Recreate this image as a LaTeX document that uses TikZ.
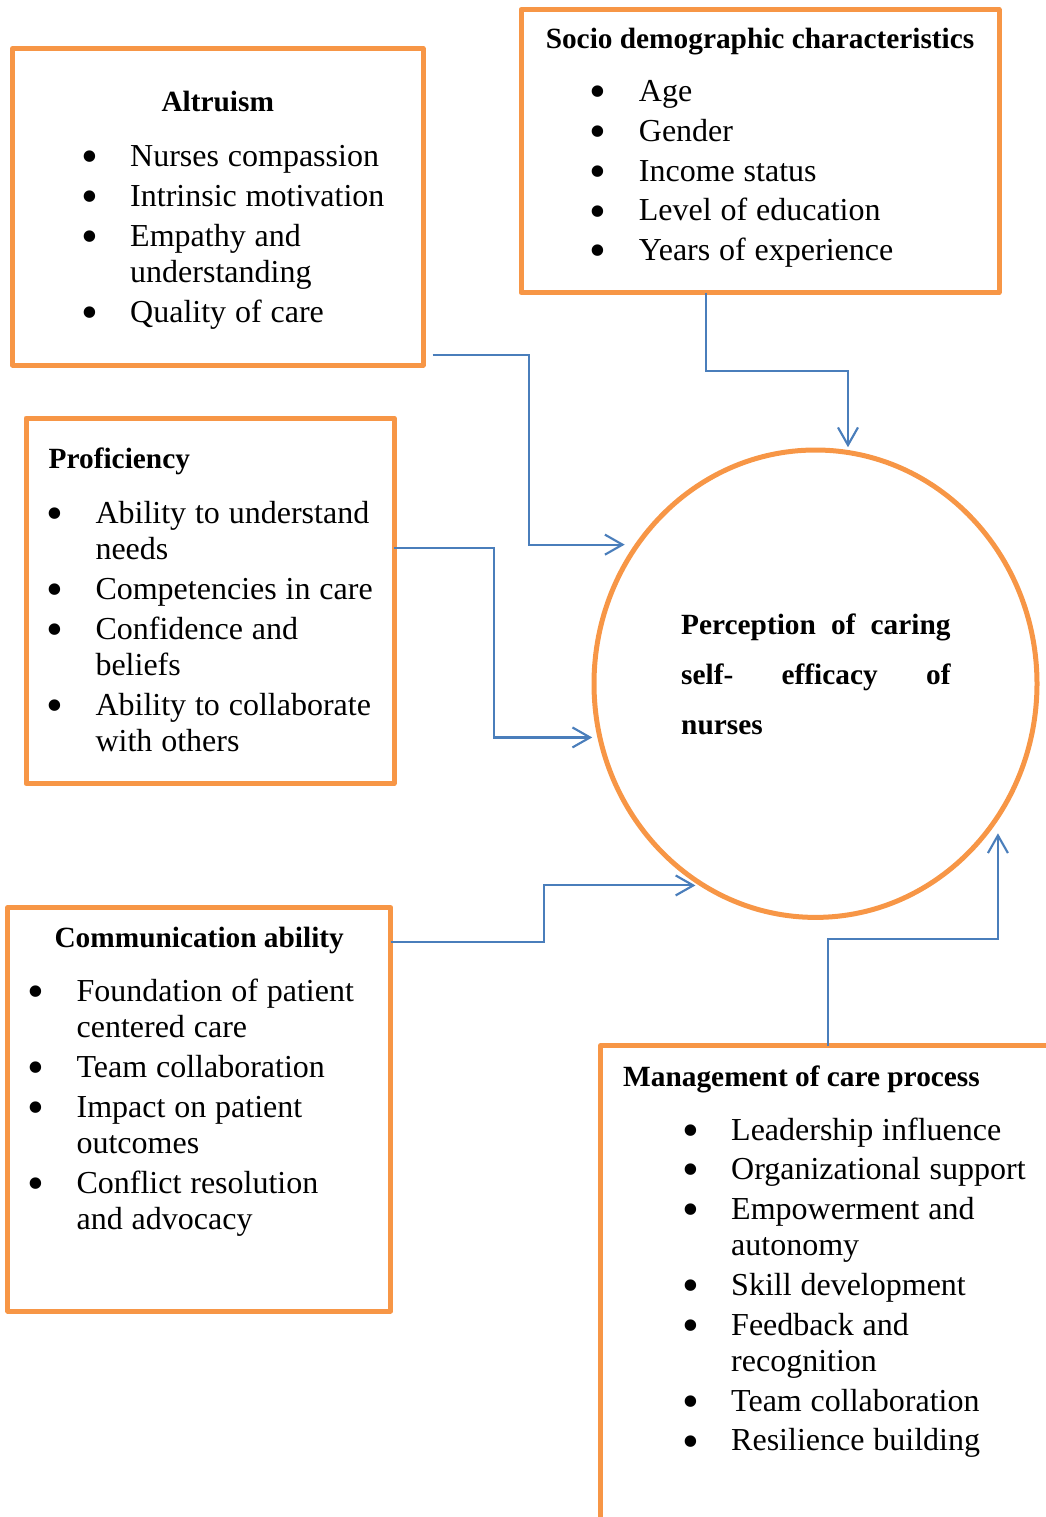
\documentclass[tikz,border=0pt]{standalone}
\usepackage{fontspec}
\setmainfont{Liberation Serif}
\usetikzlibrary{shapes.geometric}
\usetikzlibrary{arrows.meta}
\definecolor{frameorange}{HTML}{F79646}
\definecolor{linkblue}{HTML}{4A7EBB}
\def\pxu{0.375pt}
\newcommand{\bulletglyph}{\raisebox{-2.3pt}{\scalebox{1.5}{\textbullet}}}
\newcommand{\listsetup}{\fontsize{12}{13.6}\selectfont\setlength{\parskip}{1.3pt}}
\newcommand{\bitem}[1]{\noindent\hangindent=19pt\hangafter=1\makebox[19pt][l]{\makebox[7.5pt][c]{\bulletglyph}}#1\par}
\tikzset{box/.style={draw=frameorange, line width=1.875pt, line join=round, inner sep=0pt, outer sep=0pt},
  openframe/.style={draw=frameorange, line width=1.875pt, line join=round},
  circ/.style={ellipse, draw=frameorange, line width=1.875pt, inner sep=0pt, outer sep=0pt},
  head/.style={font=\bfseries\fontsize{11}{13}\selectfont, inner sep=0pt},
  itemlist/.style={anchor=base west, inner sep=0pt, text width=150pt, align=left},
  link/.style={draw=linkblue, line width=0.8pt, -{Straight Barb[length=6.6pt,width=7.5pt]}}}
\begin{document}
\begin{tikzpicture}[x=0.375pt, y=-0.375pt]
\useasboundingbox (0,0) rectangle (1046,1517);

\node[box, minimum width=410.5*\pxu, minimum height=316.5*\pxu] (altruism) at (217.75,206.75) {};
\node[box, minimum width=478*\pxu, minimum height=283*\pxu] (socio) at (760,151) {};
\node[box, minimum width=368*\pxu, minimum height=365.7*\pxu] (prof) at (210,600.85) {};
\node[box, minimum width=382.9*\pxu, minimum height=403.5*\pxu] (comm) at (199.25,1109.25) {};
\node[anchor=north west, minimum width=445.3*\pxu, minimum height=471.5*\pxu, inner sep=0pt, outer sep=0pt] (mgmt) at (600.7,1045.5) {};
\draw[openframe] (mgmt.north east) -| (mgmt.south west);
\node[circ, minimum width=443*\pxu, minimum height=467.4*\pxu] (selfeff) at (815.5,683.7) {};

\node[head, anchor=base] (altrhead) at (217.75,111.7) {Altruism};
\node[head, anchor=base] (sociohead) at (760,48.3) {Socio demographic characteristics};
\node[head, anchor=base west] (profhead) at (48.2,468.3) {Proficiency};
\node[head, anchor=base] (commhead) at (199.2,947.3) {Communication ability};
\node[head, anchor=base west] (mgmthead) at (622.7,1086.7) {Management of care process};

\node[itemlist] (altrlist) at (79,166.7) {\listsetup
  \bitem{Nurses compassion}
  \bitem{Intrinsic motivation}
  \bitem{Empathy and\newline understanding}
  \bitem{Quality of care}};
\node[itemlist] (sociolist) at (587.7,101.7) {\listsetup
  \bitem{Age}
  \bitem{Gender}
  \bitem{Income status}
  \bitem{Level of education}
  \bitem{Years of experience}};
\node[itemlist] (proflist) at (44.3,523.3) {\listsetup
  \bitem{Ability to understand\newline needs}
  \bitem{Competencies in care}
  \bitem{Confidence and\newline beliefs}
  \bitem{Ability to collaborate\newline with others}};
\node[itemlist] (commlist) at (25.4,1001.7) {\listsetup
  \bitem{Foundation of patient\newline centered care}
  \bitem{Team collaboration}
  \bitem{Impact on patient\newline outcomes}
  \bitem{Conflict resolution\newline and advocacy}};
\node[itemlist] (mgmtlist) at (680,1140) {\listsetup
  \bitem{Leadership influence}
  \bitem{Organizational support}
  \bitem{Empowerment and\newline autonomy}
  \bitem{Skill development}
  \bitem{Feedback and\newline recognition}
  \bitem{Team collaboration}
  \bitem{Resilience building}};

\node[anchor=base west, inner sep=0pt, text width=269.3*\pxu, align=left] (selftext) at (680.7,634)
  {\bfseries\fontsize{11}{18.9}\selectfont Perception\hfill of\hfill caring\newline self-\hfill efficacy\hfill of\newline nurses\par};

\draw[link, shorten >=4.8pt] ([xshift=9.6*\pxu, yshift=9.7*\pxu]altruism.south east) -- ++(96,0) |- (selfeff.142.9);
\draw[link, shorten >=2pt] ([xshift=-54.3*\pxu]socio.south) -- ++(0,78.2) -| (selfeff.82.9);
\draw[link, shorten >=2.9pt] ([yshift=53.2*\pxu]prof.east) -- ++(100,0) |- (selfeff.194.68);
\draw[link, shorten >=3.1pt] ([yshift=166.95*\pxu]comm.east) -- ++(153.7,0) |- (selfeff.241.04);
\draw[link, shorten >=6.4pt] ([xshift=4.95*\pxu]mgmt.north) -- ++(0,-106.5) -| (selfeff.324.5);
\end{tikzpicture}
\end{document}
